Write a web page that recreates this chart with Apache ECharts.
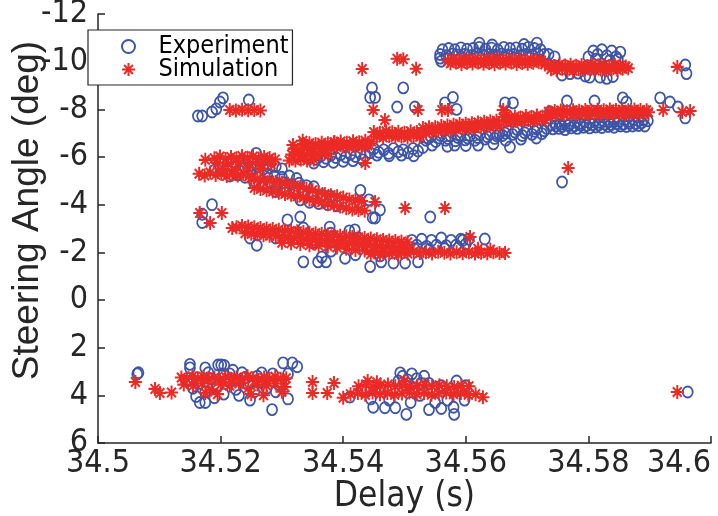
<!DOCTYPE html>
<html>
<head>
<meta charset="utf-8">
<script src="https://cdn.jsdelivr.net/npm/echarts@6/dist/echarts.min.js"></script>
<style>
  html, body { margin: 0; padding: 0; background: #fff; }
  #chart { width: 718px; height: 516px; }
</style>
</head>
<body>
<div id="chart"></div>
<script>
// Axis ranges and tick labels
const xTicks = [34.5, 34.52, 34.54, 34.56, 34.58, 34.6];
const yTicks = [-12, -10, -8, -6, -4, -2, 0, 2, 4, 6];
const seriesNames = ['Experiment', 'Simulation'];

// ---------- Experiment: [delay (s), steering angle (deg)] ----------
const expUpperBand = [
  [34.5562,-10.5],[34.5572,-10.55],[34.5582,-10.5],[34.5592,-10.58],[34.5602,-10.52],[34.5612,-10.55],
  [34.5622,-10.6],[34.5632,-10.52],[34.5642,-10.57],[34.5652,-10.5],[34.5662,-10.6],[34.5672,-10.55],
  [34.5682,-10.58],[34.5692,-10.52],[34.5702,-10.6],[34.5712,-10.55],[34.5722,-10.5],
  [34.5558,-10.3],[34.5568,-10.25],[34.5578,-10.32],[34.5588,-10.28],[34.5598,-10.3],[34.5608,-10.25],
  [34.5618,-10.32],[34.5628,-10.28],[34.5638,-10.3],[34.5648,-10.26],[34.5658,-10.32],[34.5668,-10.28],
  [34.5678,-10.3],[34.5688,-10.25],[34.5698,-10.3],[34.5708,-10.28],[34.5718,-10.32],[34.5728,-10.3],
  [34.5558,-10.15],[34.5560,-10.02],[34.5622,-10.78],[34.5643,-10.7],[34.5695,-10.72],[34.5716,-10.78],
  [34.5735,-10.3],[34.5745,-10.2],
  [34.5800,-10.2],[34.5808,-10.45],[34.5815,-10.3],[34.5822,-10.5],[34.5830,-10.25],[34.5838,-10.45],
  [34.5845,-10.2],[34.5852,-10.4],[34.5812,-10.1],[34.5835,-10.05],[34.5848,-10.1],
  [34.5757,-9.44],[34.5770,-9.5],[34.5783,-9.52],[34.5795,-9.4],[34.5802,-9.35],[34.5819,-9.35],
  [34.5830,-9.3],[34.5840,-9.38],
  [34.5958,-9.86],[34.5960,-9.5]
];
const expScatterHigh = [
  [34.5163,-7.72],[34.5170,-7.72],[34.5186,-7.89],[34.5193,-8.02],[34.5199,-8.31],[34.5204,-8.48],[34.5246,-8.39],
  [34.5447,-8.9],[34.5444,-8.5],[34.5452,-8.5],[34.5488,-8.1],[34.5498,-8.9],[34.5517,-8.1],
  [34.5566,-8.27],[34.5579,-8.5],[34.5585,-8.0],[34.5664,-8.27],[34.5677,-8.27],[34.5737,-7.9],
  [34.5765,-8.35],[34.5810,-8.35],[34.5856,-8.48],[34.5862,-8.31],[34.5917,-8.48],[34.5933,-8.31],
  [34.5946,-8.1],[34.5958,-7.64]
];
const expMainBand = [
  [34.5348,-6.0],[34.5356,-5.9],[34.5364,-6.05],[34.5372,-5.95],[34.5380,-6.08],[34.5388,-5.98],
  [34.5396,-6.1],[34.5404,-6.0],[34.5412,-6.12],[34.5420,-6.02],[34.5428,-6.15],[34.5436,-6.05],[34.5444,-6.18],
  [34.5352,-5.75],[34.5368,-5.8],[34.5384,-5.78],[34.5400,-5.82],[34.5416,-5.85],[34.5432,-5.88],
  [34.5450,-6.35],[34.5458,-6.2],[34.5466,-6.3],[34.5474,-6.15],[34.5482,-6.35],[34.5490,-6.22],
  [34.5498,-6.3],[34.5506,-6.18],[34.5514,-6.35],[34.5522,-6.25],[34.5530,-6.4],
  [34.5455,-6.08],[34.5475,-6.05],[34.5495,-6.08],[34.5515,-6.05],
  [34.5535,-6.7],[34.5543,-6.85],[34.5551,-6.65],[34.5559,-6.9],[34.5567,-6.7],[34.5575,-6.88],
  [34.5583,-6.68],[34.5591,-6.92],[34.5599,-6.72],[34.5607,-6.9],[34.5615,-6.7],[34.5623,-6.95],
  [34.5631,-6.75],[34.5639,-6.95],[34.5647,-6.78],[34.5655,-6.98],
  [34.5539,-6.78],[34.5555,-6.8],[34.5571,-6.78],[34.5587,-6.82],[34.5603,-6.8],[34.5619,-6.82],
  [34.5635,-6.85],[34.5651,-6.88],
  [34.5545,-6.5],[34.5570,-6.45],[34.5582,-6.5],[34.5600,-6.48],[34.5620,-6.5],[34.5645,-6.55],[34.5672,-6.42],
  [34.5660,-6.9],[34.5668,-7.1],[34.5676,-6.95],[34.5684,-7.15],[34.5692,-6.9],[34.5700,-7.12],
  [34.5708,-6.95],[34.5716,-7.18],[34.5724,-6.98],[34.5732,-7.2],
  [34.5664,-7.0],[34.5680,-7.05],[34.5696,-7.02],[34.5712,-7.08],[34.5728,-7.1],
  [34.5665,-6.7],[34.5690,-6.75],[34.5715,-6.8],
  [34.5738,-7.35],[34.5746,-7.42],[34.5754,-7.38],[34.5762,-7.45],[34.5770,-7.4],[34.5778,-7.46],
  [34.5786,-7.42],[34.5794,-7.48],[34.5802,-7.44],[34.5810,-7.5],[34.5818,-7.46],[34.5826,-7.5],
  [34.5834,-7.48],[34.5842,-7.52],[34.5850,-7.5],[34.5858,-7.55],[34.5866,-7.5],[34.5874,-7.55],
  [34.5882,-7.52],[34.5890,-7.56],[34.5897,-7.52],
  [34.5747,-7.3],[34.5757,-7.28],[34.5767,-7.32],[34.5777,-7.3],[34.5787,-7.35],[34.5797,-7.32],
  [34.5807,-7.36],[34.5817,-7.34],[34.5827,-7.38],[34.5837,-7.36],[34.5847,-7.4],[34.5857,-7.38],
  [34.5867,-7.42],[34.5877,-7.4],[34.5887,-7.44],
  [34.5742,-7.18],[34.5752,-7.2],[34.5762,-7.15],[34.5772,-7.22],[34.5782,-7.2],[34.5792,-7.25],
  [34.5802,-7.22],[34.5812,-7.26],[34.5822,-7.24],[34.5832,-7.28],[34.5842,-7.25],[34.5852,-7.3],
  [34.5862,-7.28],[34.5872,-7.3],[34.5882,-7.32],[34.5892,-7.3]
];
const expMidCluster = [
  [34.5190,-5.45],[34.5200,-5.55],[34.5210,-5.5],[34.5220,-5.58],[34.5230,-5.45],[34.5240,-5.55],
  [34.5250,-5.5],[34.5260,-5.6],[34.5270,-5.5],[34.5280,-5.55],[34.5290,-5.6],[34.5300,-5.5],
  [34.5215,-5.2],[34.5228,-5.25],[34.5240,-5.15],[34.5252,-5.22],[34.5264,-5.18],[34.5276,-5.25],
  [34.5288,-5.2],[34.5300,-5.15],[34.5312,-5.2],[34.5324,-5.1],
  [34.5255,-4.9],[34.5268,-4.85],[34.5280,-4.95],[34.5292,-4.88],[34.5304,-4.92],[34.5316,-4.85],
  [34.5328,-4.9],[34.5340,-4.8],[34.5352,-4.75],
  [34.5290,-4.55],[34.5305,-4.6],[34.5320,-4.5],[34.5335,-4.55],[34.5350,-4.45],[34.5365,-4.4],[34.5380,-4.35],
  [34.5330,-4.2],[34.5345,-4.1],[34.5360,-4.05],[34.5375,-4.0],[34.5390,-3.95],
  [34.5258,-6.15],[34.5277,-5.7],[34.5245,-5.8],[34.5265,-5.85]
];
const expLowBand = [
  [34.5186,-4.0],[34.5170,-3.6],[34.5170,-3.25],[34.5309,-3.36],[34.5330,-3.48],[34.5335,-3.02],
  [34.5378,-3.06],[34.5380,-2.8],[34.5419,-2.94],[34.5428,-4.6],[34.5442,-4.2],[34.5452,-3.44],
  [34.5460,-3.78],[34.5542,-3.48],[34.5631,-2.56],[34.5757,-4.95],[34.5427,-4.1],[34.5448,-3.45],
  [34.5248,-2.6],[34.5259,-2.3],[34.5410,-2.9],[34.5425,-2.6],
  [34.5260,-2.9],[34.5290,-2.6],[34.5320,-2.8],[34.5350,-2.4],[34.5390,-2.5],[34.5440,-2.2],
  [34.5470,-2.1],[34.5490,-2.3],[34.5380,-2.05],[34.5420,-1.9],[34.5460,-1.85],
  [34.5335,-1.6],[34.5359,-1.6],[34.5365,-1.8],[34.5372,-1.6],[34.5403,-1.75],[34.5444,-1.4],
  [34.5462,-1.6],[34.5482,-1.55],[34.5501,-1.55],[34.5522,-1.6],
  [34.5512,-2.5],[34.5520,-2.3],[34.5528,-2.55],[34.5536,-2.25],[34.5544,-2.5],[34.5552,-2.3],
  [34.5560,-2.6],[34.5568,-2.28],[34.5576,-2.5],[34.5584,-2.3],[34.5592,-2.55],[34.5600,-2.35],
  [34.5516,-2.15],[34.5540,-2.12],[34.5565,-2.15],[34.5588,-2.2],[34.5605,-2.55],[34.5595,-2.5]
];
const expBottomBand = [
  [34.5064,3.1],[34.5066,3.05],[34.5150,2.7],[34.5150,2.85],[34.5175,2.85],[34.5196,2.73],
  [34.5201,2.73],[34.5206,2.75],[34.5166,4.3],[34.5175,4.3],[34.5215,3.1],[34.5248,4.2],
  [34.5267,3.06],[34.5284,4.6],[34.5302,2.64],[34.5317,2.64],[34.5325,2.8],[34.5310,3.1],[34.5310,4.15],
  [34.5145,3.4],[34.5155,3.7],[34.5165,3.5],[34.5175,3.85],[34.5185,3.3],[34.5195,3.6],[34.5205,3.95],
  [34.5215,3.45],[34.5225,3.75],[34.5235,3.05],[34.5245,3.55],[34.5255,3.85],[34.5265,3.45],
  [34.5275,3.7],[34.5285,3.1],[34.5295,3.55],[34.5160,4.05],[34.5190,4.1],[34.5230,4.0],
  [34.5205,3.1],[34.5180,3.05],[34.5220,2.95],[34.5240,3.25],[34.5260,3.2],[34.5290,3.85],
  [34.5411,4.07],[34.5449,4.5],[34.5468,4.52],[34.5485,4.52],[34.5493,3.06],[34.5503,4.8],
  [34.5532,3.2],[34.5581,4.8],
  [34.5430,3.8],[34.5445,4.15],[34.5460,3.7],[34.5475,4.2],[34.5490,3.4],[34.5497,3.2],
  [34.5505,3.35],[34.5512,3.1],[34.5520,3.3],[34.5510,4.3],[34.5525,4.0],[34.5540,3.5],
  [34.5550,4.3],[34.5560,3.6],[34.5570,4.2],[34.5580,4.5],[34.5590,3.8],[34.5598,4.2],
  [34.5540,4.6],[34.5560,4.55],[34.5585,3.4],[34.5600,3.6],[34.5527,3.5],[34.5500,3.55],
  [34.5962,3.86]
];

// ---------- Simulation: [delay (s), steering angle (deg)] ----------
const simUpperBand = [
  [34.5571,-10.05],[34.5580,-10.1],[34.5589,-10.06],[34.5598,-10.12],[34.5607,-10.07],[34.5616,-10.1],
  [34.5625,-10.05],[34.5634,-10.11],[34.5643,-10.08],[34.5652,-10.12],[34.5661,-10.06],[34.5670,-10.1],
  [34.5679,-10.07],[34.5688,-10.11],[34.5697,-10.05],[34.5706,-10.09],[34.5715,-10.06],
  [34.5575,-9.93],[34.5584,-9.96],[34.5593,-9.9],[34.5602,-9.95],[34.5611,-9.92],[34.5620,-9.97],
  [34.5629,-9.91],[34.5638,-9.94],[34.5647,-9.89],[34.5656,-9.95],[34.5665,-9.92],[34.5674,-9.96],
  [34.5683,-9.9],[34.5692,-9.94],[34.5701,-9.91],[34.5710,-9.95],[34.5719,-9.98],
  [34.5723,-10.05],[34.5729,-9.88],
  [34.5735,-9.86],[34.5744,-9.82],[34.5753,-9.88],[34.5762,-9.84],[34.5771,-9.87],[34.5780,-9.83],
  [34.5789,-9.86],[34.5798,-9.82],[34.5807,-9.88],[34.5816,-9.84],[34.5825,-9.86],[34.5834,-9.82],
  [34.5843,-9.87],[34.5852,-9.84],[34.5861,-9.8],
  [34.5739,-9.68],[34.5748,-9.64],[34.5757,-9.7],[34.5766,-9.66],[34.5775,-9.62],[34.5784,-9.68],
  [34.5793,-9.65],[34.5802,-9.7],[34.5811,-9.63],[34.5820,-9.67],[34.5829,-9.64],[34.5838,-9.69],
  [34.5847,-9.66],[34.5856,-9.7],[34.5865,-9.72],
  [34.5431,-9.69],[34.5488,-10.12],[34.5498,-10.1],[34.5519,-9.7],[34.5945,-9.78]
];
const simScatterHigh = [
  [34.5215,-7.97],[34.5225,-7.95],[34.5235,-7.98],[34.5245,-7.96],[34.5255,-7.97],[34.5265,-7.95],
  [34.5449,-7.97],[34.5468,-7.55],[34.5522,-7.97],[34.5561,-7.97],[34.5571,-7.97],
  [34.5661,-7.97],[34.5667,-7.76],[34.5922,-7.97],[34.5953,-7.89],[34.5966,-7.93],
  [34.5767,-5.54],[34.5436,-5.75],[34.5452,-4.11],[34.5501,-3.86],[34.5566,-3.86]
];
const simMainBand = [
  [34.5312,-5.85],[34.5322,-5.85],[34.5331,-5.9],[34.5341,-5.85],[34.5352,-5.9],
  [34.5316,-6.1],[34.5326,-6.12],[34.5336,-6.08],[34.5346,-6.12],[34.5356,-6.1],[34.5366,-6.15],[34.5376,-6.12],
  [34.5320,-6.35],[34.5330,-6.32],[34.5340,-6.38],[34.5350,-6.35],[34.5360,-6.4],[34.5370,-6.38],[34.5380,-6.42],
  [34.5335,-6.55],[34.5345,-6.58],[34.5355,-6.55],[34.5365,-6.6],[34.5375,-6.58],[34.5385,-6.62],
  [34.5318,-6.5],[34.5334,-6.68],
  [34.5386,-6.62],[34.5396,-6.65],[34.5406,-6.6],[34.5416,-6.66],[34.5426,-6.62],[34.5436,-6.68],[34.5446,-6.65],
  [34.5390,-6.42],[34.5400,-6.45],[34.5410,-6.4],[34.5420,-6.46],[34.5430,-6.42],[34.5440,-6.48],
  [34.5450,-7.05],[34.5460,-7.02],[34.5470,-7.08],[34.5480,-7.04],[34.5490,-7.06],[34.5500,-7.02],
  [34.5510,-7.08],[34.5520,-7.05],
  [34.5455,-6.85],[34.5465,-6.82],[34.5475,-6.88],[34.5485,-6.84],[34.5495,-6.86],[34.5505,-6.82],
  [34.5515,-6.88],[34.5525,-6.85],
  [34.5530,-7.22],[34.5540,-7.25],[34.5550,-7.25],[34.5560,-7.3],[34.5570,-7.32],[34.5580,-7.35],
  [34.5590,-7.38],[34.5600,-7.4],[34.5610,-7.42],[34.5620,-7.45],[34.5630,-7.48],[34.5640,-7.5],[34.5650,-7.52],
  [34.5535,-7.02],[34.5545,-7.05],[34.5555,-7.08],[34.5565,-7.1],[34.5575,-7.12],[34.5585,-7.15],
  [34.5595,-7.18],[34.5605,-7.2],[34.5615,-7.22],[34.5625,-7.25],[34.5635,-7.28],[34.5645,-7.3],[34.5655,-7.32],
  [34.5662,-7.68],[34.5671,-7.62],[34.5680,-7.7],[34.5689,-7.66],[34.5698,-7.72],[34.5707,-7.68],
  [34.5716,-7.74],[34.5725,-7.7],
  [34.5666,-7.5],[34.5675,-7.46],[34.5684,-7.52],[34.5693,-7.5],[34.5702,-7.55],[34.5711,-7.52],
  [34.5720,-7.58],[34.5729,-7.56],
  [34.5735,-7.9],[34.5745,-7.93],[34.5755,-7.95],[34.5765,-7.92],[34.5775,-7.96],[34.5785,-7.94],
  [34.5795,-7.97],[34.5805,-7.95],[34.5815,-7.98],[34.5825,-7.96],[34.5835,-7.99],[34.5845,-7.97],
  [34.5855,-7.98],[34.5865,-7.96],[34.5875,-7.99],[34.5885,-7.97],[34.5895,-7.96],
  [34.5738,-7.86],[34.5758,-7.88],[34.5778,-7.87],[34.5798,-7.9],[34.5818,-7.88],[34.5838,-7.9],
  [34.5858,-7.89],[34.5878,-7.9],[34.5898,-7.88],
  [34.5740,-7.76],[34.5750,-7.8],[34.5760,-7.78],[34.5770,-7.82],[34.5780,-7.79],[34.5790,-7.81],
  [34.5800,-7.78],[34.5810,-7.82],[34.5820,-7.8],[34.5830,-7.83],[34.5840,-7.8],[34.5850,-7.82],
  [34.5860,-7.79],[34.5870,-7.83],[34.5880,-7.81],[34.5890,-7.8]
];
const simMidCluster = [
  [34.5190,-5.95],[34.5199,-6.02],[34.5208,-5.92],[34.5217,-6.0],[34.5226,-5.95],[34.5235,-6.04],
  [34.5244,-5.97],[34.5253,-6.02],[34.5262,-5.94],[34.5271,-6.0],[34.5280,-5.96],[34.5289,-5.9],
  [34.5175,-5.88],
  [34.5195,-5.75],[34.5212,-5.7],[34.5230,-5.78],[34.5248,-5.72],[34.5265,-5.75],[34.5282,-5.7],
  [34.5165,-5.3],[34.5174,-5.22],[34.5183,-5.35],[34.5192,-5.25],[34.5201,-5.3],[34.5210,-5.2],
  [34.5219,-5.28],[34.5228,-5.22],[34.5237,-5.3],[34.5246,-5.18],
  [34.5205,-5.5],[34.5225,-5.45],[34.5245,-5.55],[34.5265,-5.5],
  [34.5250,-5.12],[34.5260,-5.08],[34.5270,-5.02],[34.5280,-5.0],[34.5290,-4.95],[34.5300,-4.92],
  [34.5310,-4.88],[34.5320,-4.8],[34.5330,-4.75],[34.5340,-4.68],[34.5350,-4.6],[34.5360,-4.52],
  [34.5370,-4.45],[34.5380,-4.4],[34.5390,-4.35],[34.5400,-4.3],[34.5410,-4.22],[34.5420,-4.2],[34.5430,-4.15],
  [34.5255,-4.7],[34.5265,-4.66],[34.5275,-4.6],[34.5285,-4.55],[34.5295,-4.5],[34.5305,-4.45],
  [34.5315,-4.42],[34.5325,-4.35],[34.5335,-4.3],[34.5345,-4.22],[34.5355,-4.15],[34.5365,-4.1],
  [34.5375,-4.02],[34.5385,-3.98],[34.5395,-3.92],[34.5405,-3.85],[34.5415,-3.8],[34.5425,-3.78],[34.5435,-3.75]
];
const simLowBand = [
  [34.5166,-3.65],[34.5202,-3.65],[34.5183,-3.23],[34.5219,-3.02],[34.5226,-3.05],
  [34.5235,-3.1],[34.5245,-3.08],[34.5255,-3.05],[34.5265,-3.02],[34.5275,-3.0],[34.5285,-2.98],
  [34.5295,-2.95],[34.5305,-2.92],[34.5315,-2.9],[34.5325,-2.88],[34.5335,-2.85],[34.5345,-2.82],
  [34.5355,-2.8],[34.5365,-2.78],[34.5375,-2.75],[34.5385,-2.72],[34.5395,-2.7],[34.5405,-2.68],
  [34.5415,-2.65],[34.5425,-2.62],[34.5435,-2.6],[34.5445,-2.58],[34.5455,-2.55],[34.5465,-2.52],
  [34.5475,-2.5],[34.5485,-2.48],[34.5495,-2.45],[34.5505,-2.42],
  [34.5240,-2.8],[34.5250,-2.78],[34.5260,-2.75],[34.5270,-2.72],[34.5280,-2.7],[34.5290,-2.68],
  [34.5300,-2.65],[34.5310,-2.62],[34.5320,-2.6],[34.5330,-2.58],[34.5340,-2.55],[34.5350,-2.52],
  [34.5360,-2.5],[34.5370,-2.48],[34.5380,-2.45],[34.5390,-2.42],[34.5400,-2.4],[34.5410,-2.38],
  [34.5420,-2.35],[34.5430,-2.32],[34.5440,-2.3],[34.5450,-2.28],[34.5460,-2.25],[34.5470,-2.22],
  [34.5480,-2.2],[34.5490,-2.18],[34.5500,-2.15],[34.5508,-2.12],
  [34.5300,-2.4],[34.5315,-2.38],[34.5330,-2.35],[34.5345,-2.3],[34.5360,-2.28],[34.5375,-2.25],
  [34.5390,-2.2],[34.5405,-2.15],[34.5420,-2.1],[34.5435,-2.08],[34.5450,-2.05],[34.5465,-2.02],[34.5480,-2.0],
  [34.5445,-1.92],[34.5460,-1.9],[34.5475,-1.95],[34.5490,-1.9],
  [34.5495,-2.0],[34.5505,-1.95],[34.5515,-2.02],[34.5525,-1.97],[34.5535,-2.0],[34.5545,-1.95],
  [34.5555,-2.02],[34.5565,-1.98],[34.5575,-1.95],[34.5585,-2.0],[34.5595,-1.96],[34.5605,-2.0],
  [34.5615,-1.95],[34.5625,-1.98],[34.5635,-1.96],[34.5645,-2.0],[34.5655,-1.97],[34.5664,-1.97],
  [34.5607,-2.64],[34.5620,-2.15],[34.5640,-2.12]
];
const simBottomBand = [
  [34.5061,3.44],[34.5093,3.73],[34.5101,3.9],[34.5120,3.88],
  [34.5136,3.25],[34.5145,3.3],[34.5154,3.2],[34.5163,3.28],[34.5172,3.22],[34.5181,3.3],
  [34.5190,3.25],[34.5199,3.35],[34.5208,3.22],[34.5217,3.3],[34.5226,3.25],[34.5235,3.32],
  [34.5244,3.2],[34.5253,3.28],[34.5262,3.35],[34.5271,3.25],[34.5280,3.3],[34.5289,3.22],
  [34.5298,3.3],[34.5307,3.28],
  [34.5140,3.55],[34.5155,3.6],[34.5170,3.5],[34.5185,3.75],[34.5200,3.55],[34.5215,3.6],
  [34.5230,3.5],[34.5245,3.7],[34.5260,3.55],[34.5275,3.6],[34.5290,3.5],[34.5305,3.65],
  [34.5175,3.9],[34.5195,3.95],[34.5250,3.95],[34.5270,4.0],[34.5300,3.85],
  [34.5350,3.44],[34.5385,3.48],[34.5350,3.9],[34.5374,3.9],[34.5400,4.1],
  [34.5425,3.62],[34.5437,3.55],[34.5449,3.65],[34.5461,3.6],[34.5473,3.55],[34.5485,3.62],
  [34.5497,3.58],[34.5509,3.65],[34.5521,3.6],[34.5533,3.55],[34.5545,3.62],[34.5557,3.58],
  [34.5569,3.62],[34.5581,3.65],[34.5593,3.6],[34.5605,3.62],
  [34.5412,3.95],[34.5424,3.9],[34.5436,3.98],[34.5448,3.88],[34.5460,3.95],[34.5472,3.9],
  [34.5484,3.98],[34.5496,3.92],[34.5508,3.88],[34.5520,3.95],[34.5532,3.9],[34.5544,3.98],
  [34.5556,3.92],[34.5568,3.88],[34.5580,3.95],[34.5592,3.9],[34.5604,3.98],[34.5616,3.95],[34.5628,4.08],
  [34.5440,3.4],[34.5455,3.45],[34.5500,3.4],
  [34.5945,3.86]
];

const experiment = [].concat(expUpperBand, expScatterHigh, expMainBand, expMidCluster, expLowBand, expBottomBand);
const simulation = [].concat(simUpperBand, simScatterHigh, simMainBand, simMidCluster, simLowBand, simBottomBand);

const BLUE = '#3d55a6';
const RED = '#ec2a25';
const INK = '#262626';
const NARROW = '"Liberation Sans Narrow", "DejaVu Sans Condensed", "Liberation Sans", sans-serif';
const REGULAR = '"Liberation Sans", Arial, sans-serif';
const ASTERISK = 'path://M5 0L5 10M0 5L10 5M1.6 1.6L8.4 8.4M1.6 8.4L8.4 1.6';

const chart = echarts.init(document.getElementById('chart'), null, { renderer: 'canvas' });
chart.setOption({
  animation: false,
  backgroundColor: '#ffffff',
  grid: { left: 98, right: 7, top: 14, bottom: 73, containLabel: false, outerBoundsMode: 'none' },
  legend: {
    orient: 'vertical',
    left: 88,
    top: 30,
    padding: [4, 4, 3, 33],
    itemWidth: 50,
    itemHeight: 13,
    itemGap: -2,
    backgroundColor: '#ffffff',
    borderColor: INK,
    borderWidth: 1.2,
    borderRadius: 0,
    textStyle: { fontFamily: NARROW, fontSize: 25, color: '#000' },
    data: [
      { name: seriesNames[0], icon: 'circle' },
      { name: seriesNames[1], icon: ASTERISK }
    ]
  },
  xAxis: {
    type: 'value',
    min: xTicks[0],
    max: xTicks[xTicks.length - 1],
    interval: 0.02,
    name: 'Delay (s)',
    nameLocation: 'middle',
    nameGap: 36,
    nameMoveOverlap: false,
    nameTextStyle: { fontFamily: NARROW, fontSize: 35, color: INK },
    axisLine: { show: true, onZero: false, lineStyle: { color: INK, width: 1.5 } },
    axisTick: { show: true, inside: true, length: 7, lineStyle: { color: INK, width: 1.5 } },
    axisLabel: {
      margin: 5,
      alignMaxLabel: 'right',
      fontFamily: NARROW, fontSize: 32, color: INK,
      formatter: v => String(parseFloat(v.toFixed(3)))
    },
    splitLine: { show: false }
  },
  yAxis: {
    type: 'value',
    inverse: true,
    min: yTicks[0],
    max: yTicks[yTicks.length - 1],
    interval: 2,
    name: 'Steering Angle (deg)',
    nameLocation: 'middle',
    nameGap: 52,
    nameMoveOverlap: false,
    nameTextStyle: { fontFamily: REGULAR, fontSize: 37, color: INK, padding: [0, 0, 0, 36] },
    axisLine: { show: true, onZero: false, lineStyle: { color: INK, width: 1.5 } },
    axisTick: { show: true, inside: true, length: 7, lineStyle: { color: INK, width: 1.5 } },
    axisLabel: { margin: 10, fontFamily: NARROW, fontSize: 32, color: INK },
    splitLine: { show: false }
  },
  series: [
    {
      name: seriesNames[0],
      type: 'scatter',
      data: experiment,
      symbol: 'circle',
      symbolSize: [10, 11],
      itemStyle: { color: 'rgba(0,0,0,0)', borderColor: BLUE, borderWidth: 1.8, opacity: 1 },
      emphasis: { disabled: true }
    },
    {
      name: seriesNames[1],
      type: 'scatter',
      data: simulation,
      symbol: ASTERISK,
      symbolSize: [13, 14],
      itemStyle: { color: 'rgba(0,0,0,0)', borderColor: RED, borderWidth: 2, opacity: 1 },
      emphasis: { disabled: true }
    }
  ]
});
</script>
</body>
</html>
